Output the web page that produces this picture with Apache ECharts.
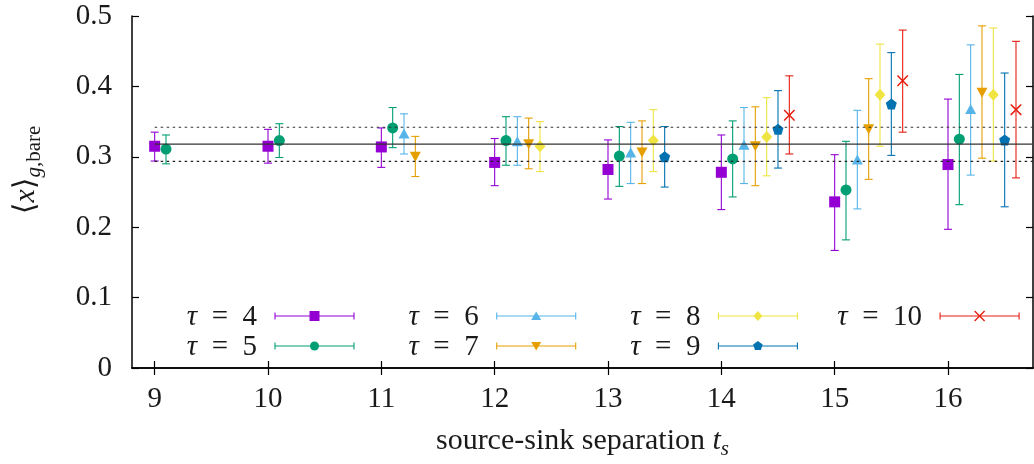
<!DOCTYPE html>
<html>
<head>
<meta charset="utf-8">
<title>x_g bare vs source-sink separation</title>
<script src="https://cdn.jsdelivr.net/npm/echarts@6/dist/echarts.min.js"></script>
<style>
html, body { margin: 0; padding: 0; background: #fff; }
#chart { width: 1034px; height: 464px; }
</style>
</head>
<body>
<div id="chart"></div>
<script>
// source-sink separations t_s used for each tau
const ts4 = [9, 10, 11, 12, 13, 14, 15, 16];
const ts5 = [9, 10, 11, 12, 13, 14, 15, 16];
const ts6 = [11, 12, 13, 14, 15, 16];
const ts7 = [11, 12, 13, 14, 15, 16];
const ts8 = [12, 13, 14, 15, 16];
const ts9 = [13, 14, 15, 16];
const ts10 = [14, 15, 16];

// central values
const mean4 = [0.315, 0.315, 0.314, 0.292, 0.282, 0.278, 0.236, 0.289];
const mean5 = [0.311, 0.323, 0.341, 0.323, 0.301, 0.297, 0.253, 0.325];
const mean6 = [0.333, 0.322, 0.306, 0.317, 0.296, 0.368];
const mean7 = [0.300, 0.318, 0.306, 0.315, 0.339, 0.391];
const mean8 = [0.315, 0.323, 0.328, 0.388, 0.388];
const mean9 = [0.300, 0.339, 0.375, 0.324];
const mean10 = [0.359, 0.408, 0.367];

// lower ends of error bars
const lo4 = [0.294, 0.291, 0.285, 0.259, 0.240, 0.225, 0.167, 0.197];
const lo5 = [0.290, 0.299, 0.313, 0.288, 0.258, 0.243, 0.182, 0.232];
const lo6 = [0.304, 0.288, 0.262, 0.262, 0.226, 0.274];
const lo7 = [0.272, 0.283, 0.262, 0.259, 0.268, 0.298];
const lo8 = [0.279, 0.279, 0.273, 0.315, 0.294];
const lo9 = [0.257, 0.284, 0.302, 0.229];
const lo10 = [0.304, 0.335, 0.270];

// upper ends of error bars
const hi4 = [0.335, 0.339, 0.341, 0.326, 0.324, 0.331, 0.303, 0.382];
const hi5 = [0.331, 0.347, 0.370, 0.357, 0.343, 0.351, 0.322, 0.417];
const hi6 = [0.361, 0.357, 0.349, 0.370, 0.366, 0.459];
const hi7 = [0.329, 0.355, 0.351, 0.371, 0.411, 0.486];
const hi8 = [0.350, 0.367, 0.384, 0.460, 0.483];
const hi9 = [0.343, 0.394, 0.448, 0.419];
const hi10 = [0.415, 0.480, 0.464];

// fit band
const fitMean = 0.318;
const fitLo = 0.2935;
const fitHi = 0.342;

const xTicks = [9, 10, 11, 12, 13, 14, 15, 16];

const taus = [4, 5, 6, 7, 8, 9, 10];
const tsList = [ts4, ts5, ts6, ts7, ts8, ts9, ts10];
const meanList = [mean4, mean5, mean6, mean7, mean8, mean9, mean10];
const loList = [lo4, lo5, lo6, lo7, lo8, lo9, lo10];
const hiList = [hi4, hi5, hi6, hi7, hi8, hi9, hi10];

const colors = ['#9400d3', '#009e73', '#56b4e9', '#e69f00', '#f0e442', '#0072b2', '#e51e10'];
const shapes = ['rect', 'circle', 'up', 'down', 'diamond', 'pentagon', 'cross'];

const FONT = "'Liberation Serif', 'DejaVu Serif', serif";
const INK = '#1a1a1a';
const FS = 29;     // tick / legend text size
const FS_T = 30;   // axis titles
const X_MIN = 8.8, X_MAX = 16.75;

const PENTAGON = 'path://M5,0 L10,3.8 8.1,10 1.9,10 0,3.8Z';
const CROSS = 'path://M0,0 L1,0 5,4 9,0 10,0 10,1 6,5 10,9 10,10 9,10 5,6 1,10 0,10 0,9 4,5 0,1Z';

function scatterSymbol(shape) {
  switch (shape) {
    case 'rect': return { symbol: 'rect', symbolSize: 11 };
    case 'circle': return { symbol: 'circle', symbolSize: 11 };
    case 'up': return { symbol: 'triangle', symbolSize: [11, 10] };
    case 'down': return { symbol: 'triangle', symbolSize: [11, 10], symbolRotate: 180 };
    case 'diamond': return { symbol: 'diamond', symbolSize: [11, 12] };
    case 'pentagon': return { symbol: PENTAGON, symbolSize: 11 };
    case 'cross': return { symbol: CROSS, symbolSize: 11 };
  }
}

function renderErr(params, api) {
  const x = api.value(0);
  const top = api.coord([x, api.value(3)]);
  const bot = api.coord([x, api.value(2)]);
  const w = 4;
  const style = { stroke: api.visual('color'), lineWidth: 1.1 };
  return {
    type: 'group',
    children: [
      { type: 'line', shape: { x1: top[0], y1: top[1], x2: bot[0], y2: bot[1] }, style: style },
      { type: 'line', shape: { x1: top[0] - w, y1: top[1], x2: top[0] + w, y2: top[1] }, style: style },
      { type: 'line', shape: { x1: bot[0] - w, y1: bot[1], x2: bot[0] + w, y2: bot[1] }, style: style }
    ]
  };
}

// legend marker drawn with graphic shapes
function legendMarker(shape, cx, cy, color) {
  const fill = { fill: color };
  if (shape === 'rect') return { type: 'rect', shape: { x: cx - 5, y: cy - 5, width: 10, height: 10 }, style: fill };
  if (shape === 'circle') return { type: 'circle', shape: { cx: cx, cy: cy, r: 4.5 }, style: fill };
  if (shape === 'up') return { type: 'polygon', shape: { points: [[cx, cy - 4.5], [cx + 5, cy + 4], [cx - 5, cy + 4]] }, style: fill };
  if (shape === 'down') return { type: 'polygon', shape: { points: [[cx, cy + 4.5], [cx + 5, cy - 4], [cx - 5, cy - 4]] }, style: fill };
  if (shape === 'diamond') return { type: 'polygon', shape: { points: [[cx, cy - 5], [cx + 4.5, cy], [cx, cy + 5], [cx - 4.5, cy]] }, style: fill };
  if (shape === 'pentagon') {
    const pts = [];
    for (let k = 0; k < 5; k++) {
      const a = (-90 + 72 * k) * Math.PI / 180;
      pts.push([cx + 5 * Math.cos(a), cy + 5 * Math.sin(a)]);
    }
    return { type: 'polygon', shape: { points: pts }, style: fill };
  }
  const st = { stroke: color, lineWidth: 1.3 };
  return {
    type: 'group',
    children: [
      { type: 'line', shape: { x1: cx - 5, y1: cy - 5, x2: cx + 5, y2: cy + 5 }, style: st },
      { type: 'line', shape: { x1: cx - 5, y1: cy + 5, x2: cx + 5, y2: cy - 5 }, style: st }
    ]
  };
}

function legendEntry(i) {
  const col = Math.floor(i / 2), row = i % 2;
  const textRight = 257 + col * 221.7;
  const y = 316 + row * 30;
  const x1 = textRight + 18, x2 = x1 + 79, xm = (x1 + x2) / 2;
  const color = colors[i];
  const st = { stroke: color, lineWidth: 1.1 };
  return [
    {
      type: 'text', x: textRight, y: y + 1,
      style: {
        text: '{i|τ}\u2002=\u2002' + taus[i],
        font: FS + 'px ' + FONT, fill: INK, align: 'right', verticalAlign: 'middle',
        rich: { i: { fontStyle: 'italic', fontSize: FS, fontFamily: FONT, fill: INK } }
      }
    },
    { type: 'line', shape: { x1: x1, y1: y, x2: x2, y2: y }, style: st },
    { type: 'line', shape: { x1: x1, y1: y - 3.5, x2: x1, y2: y + 3.5 }, style: st },
    { type: 'line', shape: { x1: x2, y1: y - 3.5, x2: x2, y2: y + 3.5 }, style: st },
    legendMarker(shapes[i], xm, y, color)
  ];
}

let series = [
  { type: 'line', data: [[9, fitHi], [X_MAX, fitHi]], symbol: 'none', silent: true,
    lineStyle: { color: '#333', width: 1.2, type: [2.5, 3.5] } },
  { type: 'line', data: [[9, fitLo], [X_MAX, fitLo]], symbol: 'none', silent: true,
    lineStyle: { color: '#222', width: 1.2, type: [2.5, 3.5] } },
  { type: 'line', data: [[9, fitMean], [X_MAX, fitMean]], symbol: 'none', silent: true,
    lineStyle: { color: '#333', width: 1.3 } }
];

taus.forEach(function (tau, i) {
  const offset = 0.1 * (tau - 4);
  const pts = tsList[i].map(function (t, k) {
    return [t + offset, meanList[i][k], loList[i][k], hiList[i][k]];
  });
  series.push({
    type: 'custom', name: 'tau' + tau, renderItem: renderErr,
    itemStyle: { color: colors[i] }, data: pts, encode: { x: 0, y: [2, 3] }
  });
  series.push(Object.assign({
    type: 'scatter', name: 'tau' + tau,
    itemStyle: { color: colors[i], opacity: 1 },
    data: pts.map(function (p) { return [p[0], p[1]]; })
  }, scatterSymbol(shapes[i])));
});

let graphics = [];
taus.forEach(function (tau, i) { graphics = graphics.concat(legendEntry(i)); });
graphics.push({
  type: 'text', x: 26, y: 170, rotation: Math.PI / 2,
  style: {
    text: '⟨{i|x}⟩{si|g}{s|,bare}',
    font: FS_T + 'px ' + FONT, fill: INK, align: 'center', verticalAlign: 'middle',
    rich: {
      i: { fontStyle: 'italic', fontSize: FS_T, fontFamily: FONT, fill: INK, lineHeight: 38, verticalAlign: 'middle' },
      si: { fontStyle: 'italic', fontSize: 21, fontFamily: FONT, fill: INK, lineHeight: 24, verticalAlign: 'bottom' },
      s: { fontSize: 21, fontFamily: FONT, fill: INK, lineHeight: 24, verticalAlign: 'bottom' }
    }
  }
});

const axisLineStyle = { show: true, lineStyle: { color: '#000', width: 1.5 } };
const tickStyle = { lineStyle: { color: '#000', width: 1.2 } };

let myChart = echarts.init(document.getElementById('chart'), null, { renderer: 'canvas' });
let option = {
  backgroundColor: '#fff',
  animation: false,
  grid: { left: 132, right: 1, top: 16, bottom: 96, containLabel: false, outerBoundsMode: 'none' },
  xAxis: [
    {
      type: 'value', min: X_MIN, max: X_MAX, position: 'bottom',
      axisLine: axisLineStyle,
      axisTick: Object.assign({ show: true, inside: true, length: 7, customValues: xTicks }, tickStyle),
      axisLabel: { customValues: xTicks, margin: 17, fontFamily: FONT, fontSize: FS, color: INK },
      splitLine: { show: false },
      name: 'source-sink separation {i|t}{s|s}',
      nameLocation: 'middle', nameGap: 54,
      nameTextStyle: {
        fontFamily: FONT, fontSize: FS_T, color: INK,
        rich: {
          i: { fontStyle: 'italic', fontSize: FS_T, fontFamily: FONT, color: INK, lineHeight: 38, verticalAlign: 'middle' },
          s: { fontStyle: 'italic', fontSize: 21, fontFamily: FONT, color: INK, lineHeight: 24, verticalAlign: 'bottom' }
        }
      }
    },
    {
      type: 'value', min: X_MIN, max: X_MAX, position: 'top',
      axisLine: axisLineStyle,
      axisTick: Object.assign({ show: true, inside: true, length: 7, customValues: xTicks }, tickStyle),
      axisLabel: { show: false },
      splitLine: { show: false }
    }
  ],
  yAxis: [
    {
      type: 'value', min: 0, max: 0.5, interval: 0.1, position: 'left',
      axisLine: axisLineStyle,
      axisTick: Object.assign({ show: true, inside: true, length: 7 }, tickStyle),
      axisLabel: { margin: 20, fontFamily: FONT, fontSize: FS, color: INK,
        formatter: function (v) { return v === 0 ? '0' : v.toFixed(1); } },
      splitLine: { show: false }
    },
    {
      type: 'value', min: 0, max: 0.5, interval: 0.1, position: 'right',
      axisLine: axisLineStyle,
      axisTick: Object.assign({ show: true, inside: true, length: 7 }, tickStyle),
      axisLabel: { show: false },
      splitLine: { show: false }
    }
  ],
  graphic: graphics,
  series: series
};
myChart.setOption(option);
</script>
</body>
</html>
